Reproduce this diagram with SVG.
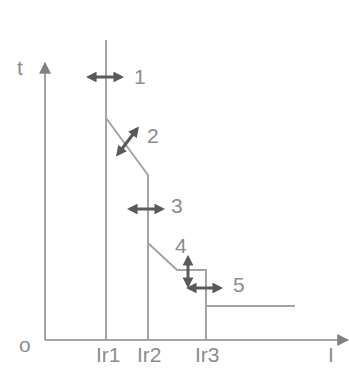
<svg xmlns="http://www.w3.org/2000/svg" width="349" height="369" viewBox="0 0 349 369">
<style>
.ln{fill:none;stroke:#a3a3a3;stroke-width:2}
.ar{fill:none;stroke:#5a5a5a;stroke-width:3}
.tx{font-family:"Liberation Sans",Arial,sans-serif;font-size:21px;fill:#8c8c8c}
</style>
<defs>
<marker id="ah" viewBox="0 0 10 10" refX="7" refY="5" markerWidth="3.6" markerHeight="3.6" orient="auto-start-reverse">
<path d="M0,0 L10,5 L0,10 z" fill="#5a5a5a"/>
</marker>
<marker id="ax" viewBox="0 0 10 10" refX="9" refY="5" markerWidth="6" markerHeight="6" orient="auto">
<path d="M0,0 L10,5 L0,10 z" fill="#808080"/>
</marker>
</defs>
<rect width="349" height="369" fill="#ffffff"/>
<g id="axes">
<line class="ln" x1="45" y1="340" x2="45" y2="63" marker-end="url(#ax)"/>
<line class="ln" x1="45" y1="340" x2="348" y2="340" marker-end="url(#ax)"/>
</g>
<g id="curves">
<line class="ln" x1="106" y1="40" x2="106" y2="340"/>
<polyline class="ln" points="106,118 148,175 148,340"/>
<polyline class="ln" points="148,243 177,270 206,270 206,340"/>
<line class="ln" x1="206" y1="306" x2="295" y2="306"/>
</g>
<g id="connectors">
<line class="ar" x1="89" y1="77" x2="121" y2="77" marker-start="url(#ah)" marker-end="url(#ah)"/>
<line class="ar" x1="118" y1="154" x2="137" y2="129" marker-start="url(#ah)" marker-end="url(#ah)"/>
<line class="ar" x1="130" y1="209" x2="162" y2="209" marker-start="url(#ah)" marker-end="url(#ah)"/>
<line class="ar" x1="188" y1="258" x2="188" y2="285" marker-start="url(#ah)" marker-end="url(#ah)"/>
<line class="ar" x1="189" y1="288" x2="220" y2="288" marker-start="url(#ah)" marker-end="url(#ah)"/>
</g>
<g id="labels">
<text class="tx" x="17" y="75">t</text>
<text class="tx" x="134" y="84">1</text>
<text class="tx" x="147" y="143">2</text>
<text class="tx" x="171" y="213">3</text>
<text class="tx" x="175" y="253">4</text>
<text class="tx" x="233" y="292">5</text>
<text class="tx" x="19" y="352">o</text>
<text class="tx" x="96" y="362">Ir1</text>
<text class="tx" x="137" y="362">Ir2</text>
<text class="tx" x="195" y="362">Ir3</text>
<text class="tx" x="328" y="362">I</text>
</g>
</svg>
